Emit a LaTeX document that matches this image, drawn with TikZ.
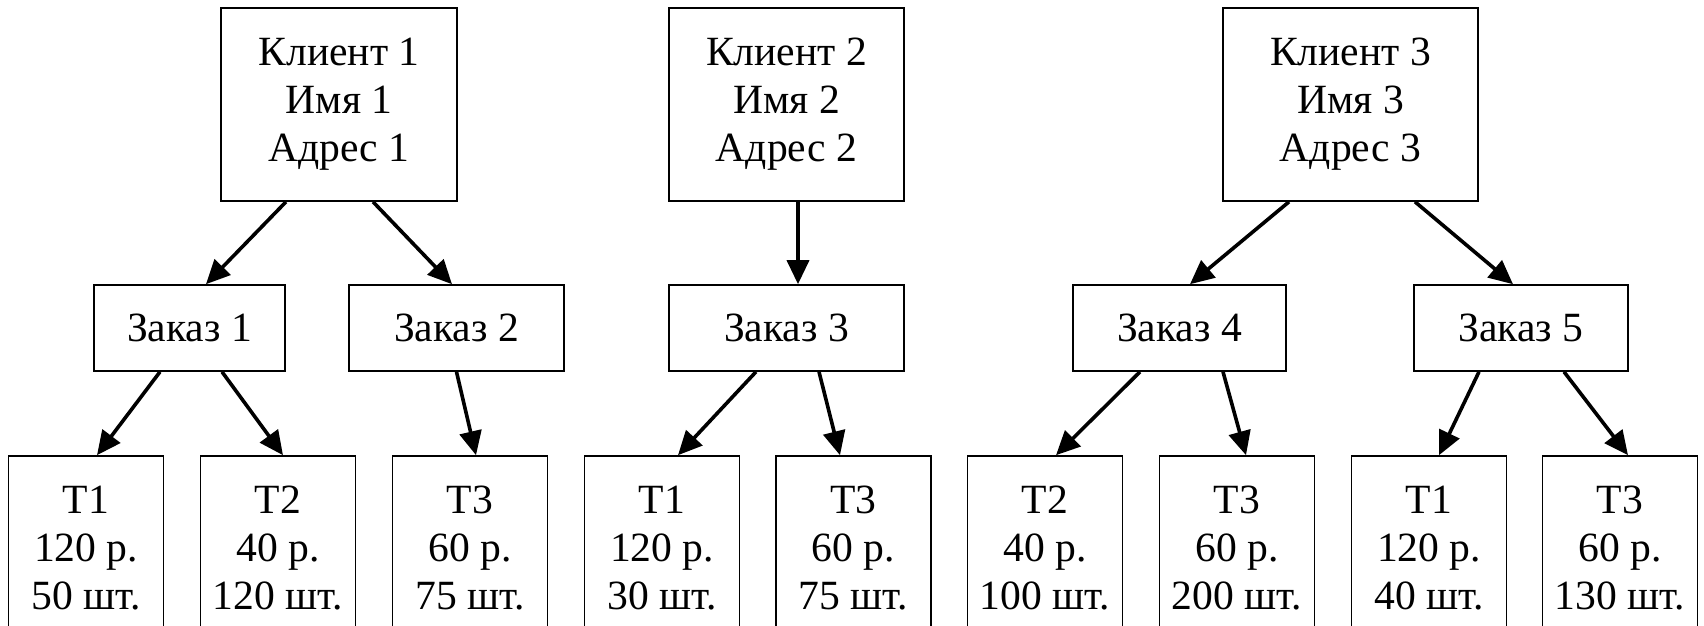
\documentclass[tikz,border=0pt]{standalone}
\usepackage{fontspec}
\setmainfont{Liberation Serif}
\newfontfamily\boxfont{Liberation Serif}
\usetikzlibrary{arrows.meta}

\begin{document}
\begin{tikzpicture}[x=0.5pt,y=-0.5pt,
  box/.style={draw,line width=0.8pt,inner sep=0pt,align=center,
    font=\boxfont\fontsize{20.8}{24}\selectfont},
  arr/.style={line width=1.8pt,-{Triangle[length=12pt,width=11pt]}}]

\clip (0,0) rectangle (1704,626);
\fill[white] (0,0) rectangle (1704,626);

% clients
\node[box,minimum width=118pt,minimum height=96.5pt] (c1) at (339,104.5)
  {Клиент 1\\Имя 1\\Адрес 1};
\node[box,minimum width=117.5pt,minimum height=96.5pt] (c2) at (786.5,104.5)
  {Клиент 2\\Имя 2\\Адрес 2};
\node[box,minimum width=127.5pt,minimum height=96.5pt] (c3) at (1350.5,104.5)
  {Клиент 3\\Имя 3\\Адрес 3};

% orders
\foreach \n/\x/\w in {1/189.5/95.5, 2/456.5/107.5, 3/786.5/117.5,
                      4/1179.5/106.5, 5/1521/107}
  \node[box,minimum width=\w pt,minimum height=43pt] (o\n) at (\x,328)
    {Заказ \n};

% goods
\foreach \n/\x/\txt in {1/86/{Т1\\120 р.\\50 шт.}, 2/278/{Т2\\40 р.\\120 шт.},
    3/470/{Т3\\60 р.\\75 шт.}, 4/662/{Т1\\120 р.\\30 шт.},
    5/853.5/{Т3\\60 р.\\75 шт.}, 6/1045/{Т2\\40 р.\\100 шт.},
    7/1237/{Т3\\60 р.\\200 шт.}, 8/1429/{Т1\\120 р.\\40 шт.},
    9/1620/{Т3\\60 р.\\130 шт.}}
  \node[box,minimum width=77.5pt,minimum height=92pt] (t\n) at (\x,548) {\txt};

% links
\foreach \a/\sa/\b/\sb in {c1/-26.5/o1/8.25, c1/17/o2/-2.25, c2/5.75/o3/5.75,
    c3/-30.75/o4/5.25, c3/32.25/o5/-4}
  \draw[arr] ([xshift=\sa pt]\a.south) -- ([xshift=\sb pt]\b.north);
\foreach \a/\sa/\b/\sb in {o1/-14.75/t1/5.5, o1/16.25/t2/2.5, o2/0/t3/3,
    o3/-15.25/t4/8, o3/16.25/t5/-6.75, o4/-19.75/t6/5.5, o4/21.75/t7/4.5,
    o5/-21/t8/5, o5/21.5/t9/4}
  \draw[arr] ([xshift=\sa pt]\a.south) -- ([xshift=\sb pt]\b.north);

\end{tikzpicture}
\end{document}
